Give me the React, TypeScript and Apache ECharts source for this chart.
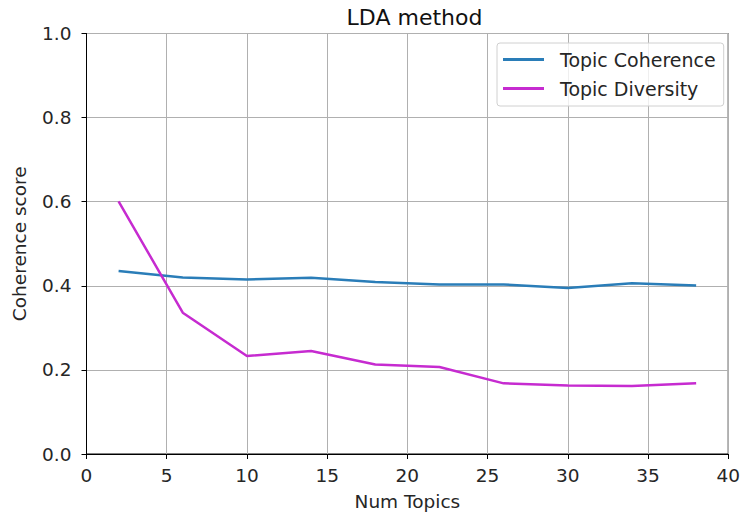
import React, { useEffect, useRef } from "react";
import * as echarts from "echarts";

const numTopics = [2, 6, 10, 14, 18, 22, 26, 30, 34, 38];
const coherence = [0.435, 0.42, 0.415, 0.419, 0.409, 0.403, 0.403, 0.395, 0.406, 0.401];
const diversity = [0.601, 0.336, 0.233, 0.245, 0.213, 0.207, 0.168, 0.163, 0.162, 0.168];
const seriesNames = ["Topic Coherence", "Topic Diversity"];
const titleText = "LDA method";
const xName = "Num Topics";
const yName = "Coherence score";

export default function App() {
  const ref = useRef<HTMLDivElement>(null);
  useEffect(() => {
    if (!ref.current) return;
    const chart = echarts.init(ref.current, undefined, { renderer: "svg" });
    const font = "DejaVu Sans";
    const fs = 18.5;
    const tickColor = "#262626";
    chart.setOption({
      animation: false,
      backgroundColor: "#fff",
      title: {
        text: titleText,
        left: 409.5,
        textAlign: "center",
        top: 1,
        textStyle: { fontFamily: font, fontSize: 22, fontWeight: "normal", color: "#111" },
      },
      legend: {
        orient: "vertical",
        left: 497,
        top: 43,
        padding: [6, 8, 7, 6],
        itemWidth: 41,
        itemHeight: 3,
        itemGap: 8,
        icon: "rect",
        borderColor: "#d0d0d0",
        borderWidth: 1,
        borderRadius: 3,
        backgroundColor: "rgba(255,255,255,0.8)",
        textStyle: {
          fontFamily: font,
          fontSize: 19,
          color: "#262626",
          lineHeight: 21,
          padding: [0, 0, 0, 11],
        },
        data: seriesNames,
      },
      grid: {
        left: 86.5,
        top: 33.5,
        right: 10.5,
        bottom: 63,
        show: true,
        borderColor: "#000",
        borderWidth: 1,
        backgroundColor: "transparent",
      },
      xAxis: {
        type: "value",
        min: 0,
        max: 40,
        interval: 5,
        name: xName,
        nameLocation: "middle",
        nameGap: 38,
        nameTextStyle: { fontFamily: font, fontSize: fs, color: "#262626" },
        axisLine: { show: true, lineStyle: { color: "#000" } },
        axisTick: { show: true, length: 5, lineStyle: { color: "#000" } },
        axisLabel: { fontFamily: font, fontSize: fs, color: tickColor, margin: 12 },
        splitLine: { show: true, lineStyle: { color: "#b0b0b0", width: 1 } },
      },
      yAxis: {
        type: "value",
        min: 0,
        max: 1,
        interval: 0.2,
        name: yName,
        nameLocation: "middle",
        nameGap: 58,
        nameTextStyle: { fontFamily: font, fontSize: fs, color: "#262626" },
        axisLine: { show: true, lineStyle: { color: "#000" } },
        axisTick: { show: true, length: 5, lineStyle: { color: "#000" } },
        axisLabel: {
          fontFamily: font,
          fontSize: fs,
          color: tickColor,
          margin: 15,
          formatter: (v: number) => v.toFixed(1),
        },
        splitLine: { show: true, lineStyle: { color: "#b0b0b0", width: 1 } },
      },
      series: [
        {
          name: seriesNames[0],
          type: "line",
          data: numTopics.map((x, i) => [x, coherence[i]]),
          showSymbol: false,
          symbol: "none",
          lineStyle: { color: "#2a7db8", width: 2.5 },
          itemStyle: { color: "#2a7db8" },
        },
        {
          name: seriesNames[1],
          type: "line",
          data: numTopics.map((x, i) => [x, diversity[i]]),
          showSymbol: false,
          symbol: "none",
          lineStyle: { color: "#c62bd0", width: 2.5 },
          itemStyle: { color: "#c62bd0" },
        },
      ],
    });
    return () => chart.dispose();
  }, []);
  return (
    <div
      ref={ref}
      style={{ position: "fixed", left: 0, top: 0, width: 743, height: 517 }}
    />
  );
}
